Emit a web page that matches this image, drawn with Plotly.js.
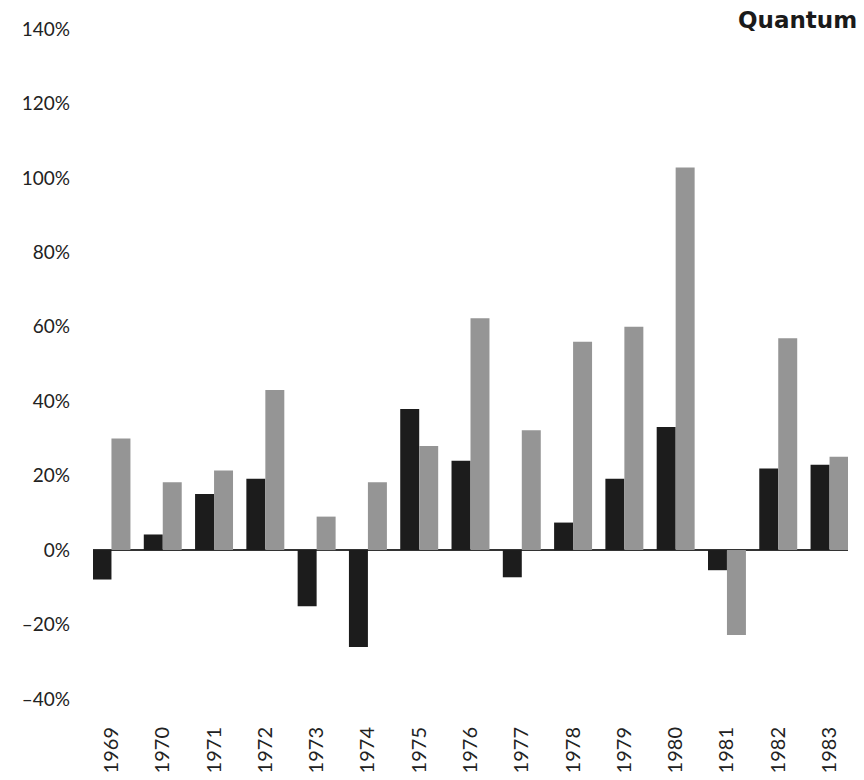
<!DOCTYPE html>
<html>
<head>
<meta charset="utf-8">
<script src="https://cdn.plot.ly/plotly-3.0.1.min.js"></script>
<style>
  html, body { margin: 0; padding: 0; background: #fff; }
  #chart { width: 864px; height: 780px; }
</style>
</head>
<body>
<div id="chart"></div>
<script>
const years = ['1969','1970','1971','1972','1973','1974','1975','1976','1977','1978','1979','1980','1981','1982','1983'];
const blackSeries = [-7.9, 4.2, 15.1, 19.2, -15.1, -26.0, 37.9, 24.0, -7.3, 7.4, 19.2, 33.1, -5.4, 21.9, 22.9];
const graySeries = [30.0, 18.2, 21.4, 43.0, 9.0, 18.2, 28.0, 62.3, 32.2, 56.0, 60.0, 102.8, -22.8, 56.9, 25.1];
const yTicks = [-40, -20, 0, 20, 40, 60, 80, 100, 120, 140];
const yTickText = yTicks.map(v => (v < 0 ? '\u2013' + Math.abs(v) : String(v)) + '%');
const chartTitle = 'Quantum';

const traces = [
  { type: 'bar', x: years, y: blackSeries, marker: { color: '#1c1c1c' }, hoverinfo: 'x+y' },
  { type: 'bar', x: years, y: graySeries, marker: { color: '#959595' }, hoverinfo: 'x+y' }
];

const layout = {
  width: 864, height: 780,
  margin: { l: 93, r: 16, t: 29, b: 81 },
  paper_bgcolor: '#fff', plot_bgcolor: '#fff',
  showlegend: false,
  barmode: 'group', bargap: 0.26, bargroupgap: 0,
  font: { family: 'Lato, "Open Sans", sans-serif', color: '#222' },
  xaxis: {
    type: 'category',
    range: [-0.36, 14.36],
    showgrid: false, zeroline: false, showline: false,
    ticks: '', tickangle: -90,
    ticklabelstandoff: 23,
    tickfont: { size: 20, family: 'Lato, sans-serif', color: '#222' }
  },
  yaxis: {
    range: [-40, 140],
    tickmode: 'array',
    tickvals: yTicks,
    ticktext: yTickText,
    showgrid: false,
    zeroline: true, zerolinecolor: '#333', zerolinewidth: 2,
    showline: false, ticks: '',
    ticklabelstandoff: 22,
    tickfont: { size: 19, family: 'Lato, sans-serif', color: '#222' }
  },
  annotations: [{
    text: chartTitle,
    xref: 'paper', yref: 'paper', x: 1, y: 1,
    xanchor: 'right', yanchor: 'middle',
    xshift: 11, yshift: 9,
    showarrow: false,
    font: { size: 23, family: '"DejaVu Sans", sans-serif', weight: 'bold', color: '#1a1a1a' }
  }]
};

Plotly.newPlot('chart', traces, layout, { displayModeBar: false, staticPlot: true });
</script>
</body>
</html>
